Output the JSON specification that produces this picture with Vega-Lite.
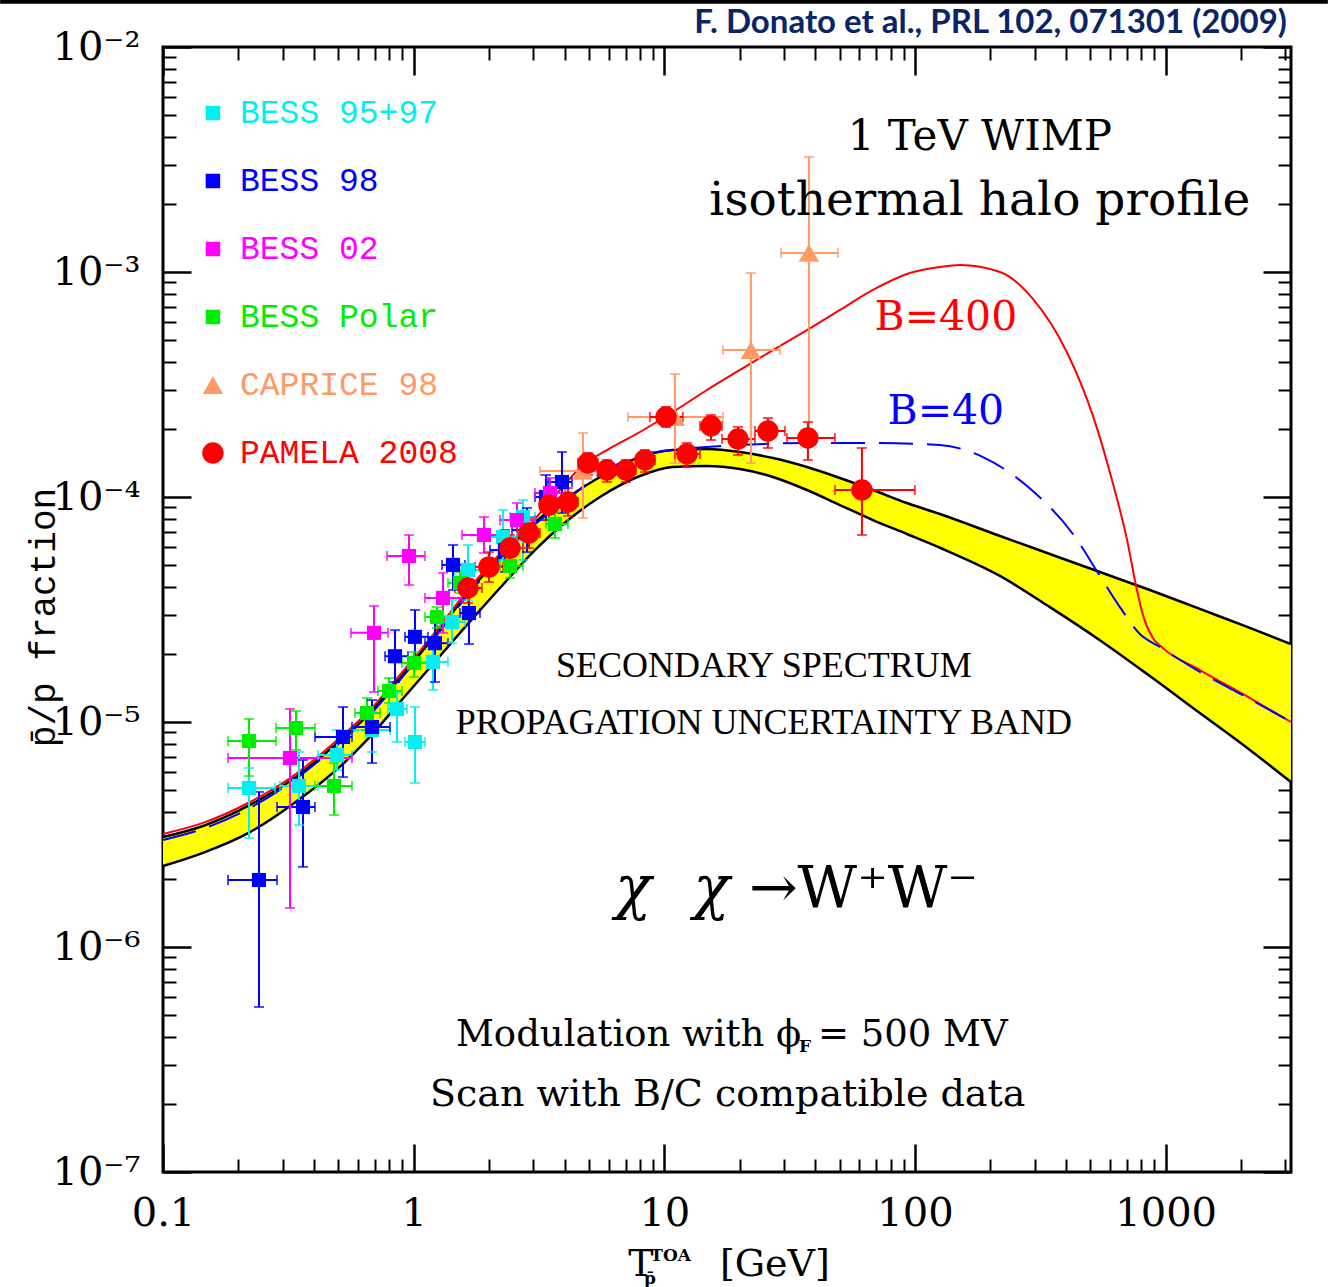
{
  "$schema": "https://vega.github.io/schema/vega-lite/v6.json",
  "width": 1128,
  "height": 1125,
  "autosize": {"type": "none"},
  "padding": {"left": 163, "top": 47, "right": 37, "bottom": 115},
  "background": "white",
  "config": {"view": {"stroke": "black", "strokeWidth": 3}, "axis": {"domain": false, "grid": false}},
  "resolve": {"axis": {"x": "independent", "y": "independent"}},
  "datasets": {
    "pts": [
      {"set":"BESS 95+97","x":0.2203,"xlo":0.1817,"xhi":0.2797,"y":5.09e-6,"ylo":3.05e-6,"yhi":6.25e-6},
      {"set":"BESS 95+97","x":0.3487,"xlo":0.2929,"xhi":0.4153,"y":5.2e-6,"ylo":3.48e-6,"yhi":7.36e-6},
      {"set":"BESS 95+97","x":0.4945,"xlo":0.4153,"xhi":0.5674,"y":7.13e-6,"ylo":6.12e-6,"yhi":9.21e-6},
      {"set":"BESS 95+97","x":0.6819,"xlo":0.5674,"xhi":0.8045,"y":9.21e-6,"ylo":7.36e-6,"yhi":1.108e-5},
      {"set":"BESS 95+97","x":0.8579,"xlo":0.7898,"xhi":0.9404,"y":1.142e-5,"ylo":8.15e-6,"yhi":1.359e-5},
      {"set":"BESS 95+97","x":1.012,"xlo":0.9233,"xhi":1.109,"y":8.15e-6,"ylo":5.36e-6,"yhi":1.166e-5},
      {"set":"BESS 95+97","x":1.194,"xlo":1.06,"xhi":1.37,"y":1.85e-5,"ylo":1.387e-5,"yhi":2.24e-5},
      {"set":"BESS 95+97","x":1.422,"xlo":1.273,"xhi":1.602,"y":2.78e-5,"ylo":2.24e-5,"yhi":3.48e-5},
      {"set":"BESS 95+97","x":1.647,"xlo":1.461,"xhi":1.873,"y":4.74e-5,"ylo":3.48e-5,"yhi":6.12e-5},
      {"set":"BESS 95+97","x":2.271,"xlo":2.016,"xhi":2.583,"y":6.64e-5,"ylo":5.25e-5,"yhi":8.76e-5},
      {"set":"BESS 95+97","x":2.729,"xlo":2.422,"xhi":3.047,"y":8.15e-5,"ylo":5.25e-5,"yhi":9.698e-5},
      {"set":"BESS 98","x":0.2415,"xlo":0.1817,"xhi":0.2849,"y":1.985e-6,"ylo":5.41e-7,"yhi":4.89e-6},
      {"set":"BESS 98","x":0.3618,"xlo":0.2849,"xhi":0.404,"y":4.19e-6,"ylo":2.27e-6,"yhi":6.78e-6},
      {"set":"BESS 98","x":0.5224,"xlo":0.404,"xhi":0.5674,"y":8.58e-6,"ylo":5.69e-6,"yhi":1.166e-5},
      {"set":"BESS 98","x":0.6819,"xlo":0.5674,"xhi":0.8045,"y":9.5e-6,"ylo":6.57e-6,"yhi":1.252e-5},
      {"set":"BESS 98","x":0.8423,"xlo":0.7683,"xhi":0.9491,"y":1.96e-5,"ylo":1.505e-5,"yhi":2.56e-5},
      {"set":"BESS 98","x":1.012,"xlo":0.9233,"xhi":1.14,"y":2.39e-5,"ylo":1.83e-5,"yhi":3.15e-5},
      {"set":"BESS 98","x":1.216,"xlo":1.109,"xhi":1.37,"y":2.24e-5,"ylo":1.505e-5,"yhi":2.93e-5},
      {"set":"BESS 98","x":1.435,"xlo":1.297,"xhi":1.602,"y":4.99e-5,"ylo":3.86e-5,"yhi":6.12e-5},
      {"set":"BESS 98","x":1.662,"xlo":1.53,"xhi":1.839,"y":3.05e-5,"ylo":2.22e-5,"yhi":3.86e-5},
      {"set":"BESS 98","x":2.313,"xlo":2.016,"xhi":2.583,"y":5.81e-5,"ylo":4.64e-5,"yhi":7.13e-5},
      {"set":"BESS 98","x":2.831,"xlo":2.467,"xhi":3.047,"y":7.13e-5,"ylo":5.69e-5,"yhi":8.94e-5},
      {"set":"BESS 98","x":3.371,"xlo":3.047,"xhi":3.661,"y":1.0e-4,"ylo":7.9e-5,"yhi":1.252e-4},
      {"set":"BESS 98","x":3.905,"xlo":3.433,"xhi":4.281,"y":1.166e-4,"ylo":8.49e-5,"yhi":1.585e-4},
      {"set":"BESS 02","x":0.3211,"xlo":0.1817,"xhi":0.5674,"y":6.92e-6,"ylo":1.49e-6,"yhi":1.142e-5},
      {"set":"BESS 02","x":0.6945,"xlo":0.5622,"xhi":0.7898,"y":2.49e-5,"ylo":1.359e-5,"yhi":3.28e-5},
      {"set":"BESS 02","x":0.9578,"xlo":0.7826,"xhi":1.109,"y":5.47e-5,"ylo":4.06e-5,"yhi":6.78e-5},
      {"set":"BESS 02","x":1.309,"xlo":1.109,"xhi":1.558,"y":3.56e-5,"ylo":2.49e-5,"yhi":4.6e-5},
      {"set":"BESS 02","x":1.907,"xlo":1.558,"xhi":2.313,"y":6.78e-5,"ylo":5.64e-5,"yhi":8.15e-5},
      {"set":"BESS 02","x":2.583,"xlo":2.209,"xhi":3.047,"y":7.9e-5,"ylo":6.44e-5,"yhi":9.4e-5},
      {"set":"BESS 02","x":3.497,"xlo":3.047,"xhi":4.014,"y":1.042e-4,"ylo":8.76e-5,"yhi":1.215e-4},
      {"set":"BESS Polar","x":0.2203,"xlo":0.1817,"xhi":0.2823,"y":8.23e-6,"ylo":5.75e-6,"yhi":1.031e-5},
      {"set":"BESS Polar","x":0.3393,"xlo":0.2823,"xhi":0.404,"y":9.4e-6,"ylo":7.51e-6,"yhi":1.119e-5},
      {"set":"BESS Polar","x":0.481,"xlo":0.404,"xhi":0.5674,"y":5.2e-6,"ylo":3.86e-6,"yhi":6.57e-6},
      {"set":"BESS Polar","x":0.6513,"xlo":0.5833,"xhi":0.7339,"y":1.096e-5,"ylo":9.21e-6,"yhi":1.278e-5},
      {"set":"BESS Polar","x":0.7971,"xlo":0.7205,"xhi":0.8982,"y":1.373e-5,"ylo":1.215e-5,"yhi":1.569e-5},
      {"set":"BESS Polar","x":1.003,"xlo":0.8982,"xhi":1.14,"y":1.83e-5,"ylo":1.585e-5,"yhi":2.05e-5},
      {"set":"BESS Polar","x":1.239,"xlo":1.109,"xhi":1.396,"y":2.93e-5,"ylo":2.62e-5,"yhi":3.24e-5},
      {"set":"BESS Polar","x":1.53,"xlo":1.37,"xhi":1.677,"y":4.15e-5,"ylo":3.74e-5,"yhi":4.64e-5},
      {"set":"BESS Polar","x":2.422,"xlo":2.209,"xhi":2.729,"y":4.94e-5,"ylo":4.37e-5,"yhi":5.47e-5},
      {"set":"BESS Polar","x":3.661,"xlo":3.371,"xhi":4.126,"y":7.59e-5,"ylo":6.57e-5,"yhi":8.58e-5},
      {"set":"CAPRICE 98","x":4.735,"xlo":3.19,"xhi":6.067,"y":1.305e-4,"ylo":8.07e-5,"yhi":1.925e-4},
      {"set":"CAPRICE 98","x":11.02,"xlo":7.158,"xhi":17.13,"y":2.267e-4,"ylo":1.416e-4,"yhi":3.52e-4},
      {"set":"CAPRICE 98","x":22.15,"xlo":17.13,"xhi":28.92,"y":4.5e-4,"ylo":1.416e-4,"yhi":9.9e-4},
      {"set":"CAPRICE 98","x":37.74,"xlo":29.19,"xhi":49.26,"y":1.215e-3,"ylo":1.985e-4,"yhi":3.245e-3},
      {"set":"PAMELA 2008","x":1.647,"xlo":1.461,"xhi":1.873,"y":3.94e-5,"ylo":3.38e-5,"yhi":4.6e-5},
      {"set":"PAMELA 2008","x":1.997,"xlo":1.756,"xhi":2.271,"y":4.89e-5,"ylo":4.19e-5,"yhi":5.69e-5},
      {"set":"PAMELA 2008","x":2.422,"xlo":2.209,"xhi":2.729,"y":5.93e-5,"ylo":5.14e-5,"yhi":6.78e-5},
      {"set":"PAMELA 2008","x":2.884,"xlo":2.583,"xhi":3.19,"y":6.92e-5,"ylo":5.93e-5,"yhi":8.07e-5},
      {"set":"PAMELA 2008","x":3.465,"xlo":3.19,"xhi":3.763,"y":9.21e-5,"ylo":7.9e-5,"yhi":1.074e-4},
      {"set":"PAMELA 2008","x":4.126,"xlo":3.763,"xhi":4.522,"y":9.5e-5,"ylo":8.24e-5,"yhi":1.096e-4},
      {"set":"PAMELA 2008","x":4.958,"xlo":4.522,"xhi":5.434,"y":1.416e-4,"ylo":1.252e-4,"yhi":1.569e-4},
      {"set":"PAMELA 2008","x":5.902,"xlo":5.434,"xhi":6.471,"y":1.318e-4,"ylo":1.166e-4,"yhi":1.461e-4},
      {"set":"PAMELA 2008","x":7.028,"xlo":6.471,"xhi":7.703,"y":1.318e-4,"ylo":1.166e-4,"yhi":1.461e-4},
      {"set":"PAMELA 2008","x":8.37,"xlo":7.703,"xhi":9.173,"y":1.461e-4,"ylo":1.291e-4,"yhi":1.617e-4},
      {"set":"PAMELA 2008","x":10.15,"xlo":8.762,"xhi":11.86,"y":2.267e-4,"ylo":2.047e-4,"yhi":2.512e-4},
      {"set":"PAMELA 2008","x":12.31,"xlo":11.02,"xhi":13.87,"y":1.553e-4,"ylo":1.359e-4,"yhi":1.738e-4},
      {"set":"PAMELA 2008","x":15.35,"xlo":13.87,"xhi":16.98,"y":2.068e-4,"ylo":1.792e-4,"yhi":2.314e-4},
      {"set":"PAMELA 2008","x":19.67,"xlo":16.98,"xhi":22.98,"y":1.811e-4,"ylo":1.537e-4,"yhi":2.047e-4},
      {"set":"PAMELA 2008","x":25.89,"xlo":22.98,"xhi":30.27,"y":1.965e-4,"ylo":1.651e-4,"yhi":2.244e-4},
      {"set":"PAMELA 2008","x":37.4,"xlo":30.83,"xhi":47.92,"y":1.829e-4,"ylo":1.461e-4,"yhi":2.154e-4},
      {"set":"PAMELA 2008","x":61.41,"xlo":47.92,"xhi":99.9,"y":1.074e-4,"ylo":6.78e-5,"yhi":1.651e-4}
    ],
    "band": [
      {"x":0.1,"hi":3.08e-6,"lo":2.29e-6},
      {"x":0.1444,"hi":3.45e-6,"lo":2.62e-6},
      {"x":0.2223,"hi":4.28e-6,"lo":3.24e-6},
      {"x":0.33,"hi":5.58e-6,"lo":4.32e-6},
      {"x":0.5224,"hi":8.49e-6,"lo":6.51e-6},
      {"x":0.6513,"hi":1.063e-5,"lo":8.32e-6},
      {"x":0.8818,"hi":1.569e-5,"lo":1.227e-5},
      {"x":1.194,"hi":2.36e-5,"lo":1.81e-5},
      {"x":1.632,"hi":3.71e-5,"lo":2.7e-5},
      {"x":2.209,"hi":5.41e-5,"lo":3.94e-5},
      {"x":2.992,"hi":7.59e-5,"lo":5.69e-5},
      {"x":4.088,"hi":9.9e-5,"lo":7.82e-5},
      {"x":5.535,"hi":1.227e-4,"lo":1.0e-4},
      {"x":7.994,"hi":1.505e-4,"lo":1.24e-4},
      {"x":10.82,"hi":1.617e-4,"lo":1.359e-4},
      {"x":14.79,"hi":1.634e-4,"lo":1.373e-4},
      {"x":20.03,"hi":1.585e-4,"lo":1.332e-4},
      {"x":27.12,"hi":1.49e-4,"lo":1.227e-4},
      {"x":37.06,"hi":1.359e-4,"lo":1.074e-4},
      {"x":50.17,"hi":1.215e-4,"lo":9.21e-5},
      {"x":67.94,"hi":1.074e-4,"lo":7.9e-5},
      {"x":92.84,"hi":9.4e-5,"lo":6.85e-5},
      {"x":125.7,"hi":8.4e-5,"lo":5.95e-5},
      {"x":218.2,"hi":6.71e-5,"lo":4.46e-5},
      {"x":345.2,"hi":5.58e-5,"lo":3.24e-5},
      {"x":546.4,"hi":4.64e-5,"lo":2.31e-5},
      {"x":865.0,"hi":3.86e-5,"lo":1.601e-5},
      {"x":1369,"hi":3.18e-5,"lo":1.096e-5},
      {"x":2167,"hi":2.62e-5,"lo":7.51e-6},
      {"x":3162,"hi":2.22e-5,"lo":5.41e-6}
    ],
    "b400": [
      {"x":0.1,"y":3.18e-6},{"x":0.1444,"y":3.56e-6},{"x":0.2223,"y":4.41e-6},{"x":0.33,"y":5.75e-6},
      {"x":0.5224,"y":8.76e-6},{"x":0.6513,"y":1.096e-5},{"x":0.8818,"y":1.618e-5},{"x":1.194,"y":2.44e-5},
      {"x":1.632,"y":3.82e-5},{"x":2.209,"y":5.58e-5},{"x":2.992,"y":7.82e-5},{"x":3.834,"y":1.074e-4},
      {"x":4.735,"y":1.387e-4},{"x":5.902,"y":1.617e-4},{"x":7.994,"y":1.945e-4},{"x":10.82,"y":2.386e-4},
      {"x":14.79,"y":2.99e-4},{"x":20.03,"y":3.67e-4},{"x":27.12,"y":4.5e-4},{"x":37.06,"y":5.52e-4},
      {"x":50.17,"y":6.78e-4},{"x":67.94,"y":8.32e-4},{"x":92.84,"y":9.8e-4},{"x":125.7,"y":1.052e-3},
      {"x":151.1,"y":1.074e-3},{"x":218.2,"y":1.0e-3},{"x":295.3,"y":7.6e-4},{"x":403.6,"y":4.4e-4},
      {"x":512.4,"y":2.3e-4},{"x":615.7,"y":1.15e-4},{"x":700.3,"y":6.5e-5},{"x":767.9,"y":3.86e-5},
      {"x":811.2,"y":2.99e-5},{"x":889.1,"y":2.36e-5},{"x":974.6,"y":2.13e-5},{"x":1369,"y":1.702e-5},
      {"x":2167,"y":1.278e-5},{"x":3162,"y":1.0e-5}
    ],
    "b40": [
      {"x":0.1,"y":2.99e-6},{"x":0.1444,"y":3.35e-6},{"x":0.2223,"y":4.15e-6},{"x":0.33,"y":5.47e-6},
      {"x":0.5224,"y":8.32e-6},{"x":0.6513,"y":1.042e-5},{"x":0.8818,"y":1.537e-5},{"x":1.194,"y":2.31e-5},
      {"x":1.632,"y":3.63e-5},{"x":2.209,"y":5.3e-5},{"x":2.992,"y":7.43e-5},{"x":4.088,"y":9.7e-5},
      {"x":5.535,"y":1.265e-4},{"x":7.994,"y":1.537e-4},{"x":10.82,"y":1.617e-4},{"x":14.79,"y":1.668e-4},
      {"x":20.03,"y":1.702e-4},{"x":37.06,"y":1.738e-4},{"x":67.94,"y":1.738e-4},{"x":125.7,"y":1.702e-4},
      {"x":186.6,"y":1.505e-4},{"x":295.3,"y":1.063e-4},{"x":426.5,"y":6.85e-5},{"x":546.4,"y":4.46e-5},
      {"x":656.8,"y":3.24e-5},{"x":789.1,"y":2.46e-5},{"x":948.2,"y":2.154e-5},{"x":1369,"y":1.668e-5},
      {"x":2167,"y":1.265e-5},{"x":3162,"y":1.0e-5}
    ],
    "legend": [
      {"set":"BESS 95+97","sx":0.1582,"tx":0.2028,"y":5.087e-3},
      {"set":"BESS 98","sx":0.1582,"tx":0.2028,"y":2.538e-3},
      {"set":"BESS 02","sx":0.1582,"tx":0.2028,"y":1.265e-3},
      {"set":"BESS Polar","sx":0.1582,"tx":0.2028,"y":6.31e-4},
      {"set":"CAPRICE 98","sx":0.1582,"tx":0.2028,"y":3.146e-4},
      {"set":"PAMELA 2008","sx":0.1582,"tx":0.2028,"y":1.569e-4}
    ],
    "axisdummy": [{"x":1,"y":0.0001}]
  },
  "layer": [
    {
      "data": {"values": [{"xa":0.0224,"xb":4436,"yv":0.0159}]},
      "mark": {"type": "rule", "color": "black", "strokeWidth": 4},
      "encoding": {
        "x": {"field":"xa","type":"quantitative","scale":{"type":"log","domain":[0.1,3162.3],"nice":false},"axis":null},
        "x2": {"field":"xb"},
        "y": {"field":"yv","type":"quantitative","scale":{"type":"log","domain":[1e-7,0.01],"nice":false},"axis":null}
      }
    },
    {
      "data": {"values": [{"x":3044,"y":0.01154,"t":"F. Donato et al., PRL 102, 071301 (2009)"}]},
      "mark": {"type": "text", "align": "right", "baseline": "alphabetic", "font": "Lato", "fontSize": 33, "fontWeight": "bold", "color": "#0A2466"},
      "encoding": {
        "x": {"field":"x","type":"quantitative","scale":{"type":"log","domain":[0.1,3162.3],"nice":false},"axis":null},
        "y": {"field":"y","type":"quantitative","scale":{"type":"log","domain":[1e-7,0.01],"nice":false},"axis":null},
        "text": {"field":"t"}
      }
    },
    {
      "data": {"name": "band"},
      "mark": {"type": "area", "color": "#FFFF00", "interpolate": "monotone", "opacity": 1},
      "encoding": {
        "x": {"field":"x","type":"quantitative","scale":{"type":"log","domain":[0.1,3162.3],"nice":false},"axis":null},
        "y": {"field":"hi","type":"quantitative","scale":{"type":"log","domain":[1e-7,0.01],"nice":false},"axis":null},
        "y2": {"field":"lo"}
      }
    },
    {
      "data": {"name": "band"},
      "mark": {"type": "line", "color": "black", "strokeWidth": 2.5, "interpolate": "monotone"},
      "encoding": {
        "x": {"field":"x","type":"quantitative","scale":{"type":"log","domain":[0.1,3162.3],"nice":false},"axis":null},
        "y": {"field":"hi","type":"quantitative","scale":{"type":"log","domain":[1e-7,0.01],"nice":false},"axis":null}
      }
    },
    {
      "data": {"name": "band"},
      "mark": {"type": "line", "color": "black", "strokeWidth": 2.5, "interpolate": "monotone"},
      "encoding": {
        "x": {"field":"x","type":"quantitative","scale":{"type":"log","domain":[0.1,3162.3],"nice":false},"axis":null},
        "y": {"field":"lo","type":"quantitative","scale":{"type":"log","domain":[1e-7,0.01],"nice":false},"axis":null}
      }
    },
    {
      "data": {"name": "b400"},
      "mark": {"type": "line", "color": "#FF0000", "strokeWidth": 2, "interpolate": "monotone"},
      "encoding": {
        "x": {"field":"x","type":"quantitative","scale":{"type":"log","domain":[0.1,3162.3],"nice":false},"axis":null},
        "y": {"field":"y","type":"quantitative","scale":{"type":"log","domain":[1e-7,0.01],"nice":false},"axis":null}
      }
    },
    {
      "data": {"name": "b40"},
      "mark": {"type": "line", "color": "#0000FF", "strokeWidth": 2, "strokeDash": [34, 14], "interpolate": "monotone"},
      "encoding": {
        "x": {"field":"x","type":"quantitative","scale":{"type":"log","domain":[0.1,3162.3],"nice":false},"axis":null},
        "y": {"field":"y","type":"quantitative","scale":{"type":"log","domain":[1e-7,0.01],"nice":false},"axis":null}
      }
    },
    {
      "data": {"name": "pts"},
      "mark": {"type": "rule", "strokeWidth": 2},
      "encoding": {
        "x": {"field":"xlo","type":"quantitative","scale":{"type":"log","domain":[0.1,3162.3],"nice":false},"axis":null},
        "x2": {"field":"xhi"},
        "y": {"field":"y","type":"quantitative","scale":{"type":"log","domain":[1e-7,0.01],"nice":false},"axis":null},
        "color": {"field":"set","type":"nominal","legend":null,"scale":{"domain":["BESS 95+97","BESS 98","BESS 02","BESS Polar","CAPRICE 98","PAMELA 2008"],"range":["#00F0F0","#0000FF","#FF00FF","#00EE00","#FF9966","#FF0000"]}}
      }
    },
    {
      "data": {"name": "pts"},
      "mark": {"type": "rule", "strokeWidth": 2},
      "encoding": {
        "x": {"field":"x","type":"quantitative","scale":{"type":"log","domain":[0.1,3162.3],"nice":false},"axis":null},
        "y": {"field":"ylo","type":"quantitative","scale":{"type":"log","domain":[1e-7,0.01],"nice":false},"axis":null},
        "y2": {"field":"yhi"},
        "color": {"field":"set","type":"nominal","legend":null}
      }
    },
    {
      "data": {"name": "pts"},
      "mark": {"type": "tick", "orient": "vertical", "size": 10, "thickness": 2},
      "encoding": {
        "x": {"field":"xlo","type":"quantitative","scale":{"type":"log","domain":[0.1,3162.3],"nice":false},"axis":null},
        "y": {"field":"y","type":"quantitative","scale":{"type":"log","domain":[1e-7,0.01],"nice":false},"axis":null},
        "color": {"field":"set","type":"nominal","legend":null}
      }
    },
    {
      "data": {"name": "pts"},
      "mark": {"type": "tick", "orient": "vertical", "size": 10, "thickness": 2},
      "encoding": {
        "x": {"field":"xhi","type":"quantitative","scale":{"type":"log","domain":[0.1,3162.3],"nice":false},"axis":null},
        "y": {"field":"y","type":"quantitative","scale":{"type":"log","domain":[1e-7,0.01],"nice":false},"axis":null},
        "color": {"field":"set","type":"nominal","legend":null}
      }
    },
    {
      "data": {"name": "pts"},
      "mark": {"type": "tick", "orient": "horizontal", "size": 10, "thickness": 2},
      "encoding": {
        "x": {"field":"x","type":"quantitative","scale":{"type":"log","domain":[0.1,3162.3],"nice":false},"axis":null},
        "y": {"field":"ylo","type":"quantitative","scale":{"type":"log","domain":[1e-7,0.01],"nice":false},"axis":null},
        "color": {"field":"set","type":"nominal","legend":null}
      }
    },
    {
      "data": {"name": "pts"},
      "mark": {"type": "tick", "orient": "horizontal", "size": 10, "thickness": 2},
      "encoding": {
        "x": {"field":"x","type":"quantitative","scale":{"type":"log","domain":[0.1,3162.3],"nice":false},"axis":null},
        "y": {"field":"yhi","type":"quantitative","scale":{"type":"log","domain":[1e-7,0.01],"nice":false},"axis":null},
        "color": {"field":"set","type":"nominal","legend":null}
      }
    },
    {
      "data": {"name": "pts"},
      "mark": {"type": "point", "filled": true, "opacity": 1, "strokeWidth": 0},
      "encoding": {
        "x": {"field":"x","type":"quantitative","scale":{"type":"log","domain":[0.1,3162.3],"nice":false},"axis":null},
        "y": {"field":"y","type":"quantitative","scale":{"type":"log","domain":[1e-7,0.01],"nice":false},"axis":null},
        "color": {"field":"set","type":"nominal","legend":null},
        "shape": {"field":"set","type":"nominal","legend":null,"scale":{"domain":["BESS 95+97","BESS 98","BESS 02","BESS Polar","CAPRICE 98","PAMELA 2008"],"range":["square","square","square","square","triangle-up","circle"]}},
        "size": {"condition": [{"test": "datum.set === 'PAMELA 2008'", "value": 460}, {"test": "datum.set === 'CAPRICE 98'", "value": 420}], "value": 200}
      }
    },
    {
      "data": {"name": "legend"},
      "mark": {"type": "point", "filled": true, "opacity": 1, "strokeWidth": 0},
      "encoding": {
        "x": {"field":"sx","type":"quantitative","scale":{"type":"log","domain":[0.1,3162.3],"nice":false},"axis":null},
        "y": {"field":"y","type":"quantitative","scale":{"type":"log","domain":[1e-7,0.01],"nice":false},"axis":null},
        "color": {"field":"set","type":"nominal","legend":null},
        "shape": {"field":"set","type":"nominal","legend":null},
        "size": {"condition": [{"test": "datum.set === 'PAMELA 2008'", "value": 460}, {"test": "datum.set === 'CAPRICE 98'", "value": 420}], "value": 210}
      }
    },
    {
      "data": {"name": "legend"},
      "mark": {"type": "text", "align": "left", "baseline": "middle", "font": "Liberation Mono", "fontSize": 33},
      "encoding": {
        "x": {"field":"tx","type":"quantitative","scale":{"type":"log","domain":[0.1,3162.3],"nice":false},"axis":null},
        "y": {"field":"y","type":"quantitative","scale":{"type":"log","domain":[1e-7,0.01],"nice":false},"axis":null},
        "color": {"field":"set","type":"nominal","legend":null},
        "text": {"field":"set"}
      }
    },
    {
      "data": {"values": [{"x":181.5,"y":3.98e-3,"t":"1 TeV WIMP"}]},
      "mark": {"type": "text", "align": "center", "baseline": "middle", "font": "DejaVu Serif", "fontSize": 42, "color": "black"},
      "encoding": {
        "x": {"field":"x","type":"quantitative","scale":{"type":"log","domain":[0.1,3162.3],"nice":false},"axis":null},
        "y": {"field":"y","type":"quantitative","scale":{"type":"log","domain":[1e-7,0.01],"nice":false},"axis":null},
        "text": {"field":"t"}
      }
    },
    {
      "data": {"values": [{"x":181.5,"y":2.068e-3,"t":"isothermal halo profile"}]},
      "mark": {"type": "text", "align": "center", "baseline": "middle", "font": "DejaVu Serif", "fontSize": 47, "color": "black"},
      "encoding": {
        "x": {"field":"x","type":"quantitative","scale":{"type":"log","domain":[0.1,3162.3],"nice":false},"axis":null},
        "y": {"field":"y","type":"quantitative","scale":{"type":"log","domain":[1e-7,0.01],"nice":false},"axis":null},
        "text": {"field":"t"}
      }
    },
    {
      "data": {"values": [{"x":132.8,"y":6.25e-4,"t":"B=400"}]},
      "mark": {"type": "text", "align": "center", "baseline": "middle", "font": "DejaVu Serif", "fontSize": 41, "color": "#FF0000"},
      "encoding": {
        "x": {"field":"x","type":"quantitative","scale":{"type":"log","domain":[0.1,3162.3],"nice":false},"axis":null},
        "y": {"field":"y","type":"quantitative","scale":{"type":"log","domain":[1e-7,0.01],"nice":false},"axis":null},
        "text": {"field":"t"}
      }
    },
    {
      "data": {"values": [{"x":132.8,"y":2.386e-4,"t":"B=40"}]},
      "mark": {"type": "text", "align": "center", "baseline": "middle", "font": "DejaVu Serif", "fontSize": 41, "color": "#0000FF"},
      "encoding": {
        "x": {"field":"x","type":"quantitative","scale":{"type":"log","domain":[0.1,3162.3],"nice":false},"axis":null},
        "y": {"field":"y","type":"quantitative","scale":{"type":"log","domain":[1e-7,0.01],"nice":false},"axis":null},
        "text": {"field":"t"}
      }
    },
    {
      "data": {"values": [{"x":24.96,"y":1.774e-5,"t":"SECONDARY SPECTRUM"},{"x":24.96,"y":9.9e-6,"t":"PROPAGATION UNCERTAINTY BAND"}]},
      "mark": {"type": "text", "align": "center", "baseline": "middle", "font": "Liberation Serif", "fontSize": 36, "color": "black"},
      "encoding": {
        "x": {"field":"x","type":"quantitative","scale":{"type":"log","domain":[0.1,3162.3],"nice":false},"axis":null},
        "y": {"field":"y","type":"quantitative","scale":{"type":"log","domain":[1e-7,0.01],"nice":false},"axis":null},
        "text": {"field":"t"}
      }
    },
    {
      "data": {"values": [{"x":6.353,"y":1.792e-6,"t":"χ\u2002\u2009χ"}]},
      "mark": {"type": "text", "align": "left", "baseline": "middle", "font": "DejaVu Serif", "fontSize": 60, "fontStyle": "italic", "color": "black"},
      "encoding": {
        "x": {"field":"x","type":"quantitative","scale":{"type":"log","domain":[0.1,3162.3],"nice":false},"axis":null},
        "y": {"field":"y","type":"quantitative","scale":{"type":"log","domain":[1e-7,0.01],"nice":false},"axis":null},
        "text": {"field":"t"}
      }
    },
    {
      "data": {"values": [{"x":21.75,"y":1.792e-6,"t":"→W⁺W⁻"}]},
      "mark": {"type": "text", "align": "left", "baseline": "middle", "font": "DejaVu Serif", "fontSize": 58, "color": "black"},
      "encoding": {
        "x": {"field":"x","type":"quantitative","scale":{"type":"log","domain":[0.1,3162.3],"nice":false},"axis":null},
        "y": {"field":"y","type":"quantitative","scale":{"type":"log","domain":[1e-7,0.01],"nice":false},"axis":null},
        "text": {"field":"t"}
      }
    },
    {
      "data": {"values": [{"x":1.475,"y":4.06e-7,"t":"Modulation with ϕ"},{"x":41.01,"y":4.06e-7,"t":"= 500 MV"}]},
      "mark": {"type": "text", "align": "left", "baseline": "middle", "font": "DejaVu Serif", "fontSize": 37, "color": "black"},
      "encoding": {
        "x": {"field":"x","type":"quantitative","scale":{"type":"log","domain":[0.1,3162.3],"nice":false},"axis":null},
        "y": {"field":"y","type":"quantitative","scale":{"type":"log","domain":[1e-7,0.01],"nice":false},"axis":null},
        "text": {"field":"t"}
      }
    },
    {
      "data": {"values": [{"x":17.9,"y":2.2e-7,"t":"Scan with B/C compatible data"}]},
      "mark": {"type": "text", "align": "center", "baseline": "middle", "font": "DejaVu Serif", "fontSize": 38, "color": "black"},
      "encoding": {
        "x": {"field":"x","type":"quantitative","scale":{"type":"log","domain":[0.1,3162.3],"nice":false},"axis":null},
        "y": {"field":"y","type":"quantitative","scale":{"type":"log","domain":[1e-7,0.01],"nice":false},"axis":null},
        "text": {"field":"t"}
      }
    },
    {
      "data": {"values": [{"x":36.38,"y":3.59e-7,"t":"F"}]},
      "mark": {"type": "text", "align": "center", "baseline": "middle", "font": "DejaVu Serif", "fontSize": 17, "fontWeight": "bold", "color": "black"},
      "encoding": {
        "x": {"field":"x","type":"quantitative","scale":{"type":"log","domain":[0.1,3162.3],"nice":false},"axis":null},
        "y": {"field":"y","type":"quantitative","scale":{"type":"log","domain":[1e-7,0.01],"nice":false},"axis":null},
        "text": {"field":"t"}
      }
    },
    {
      "data": {"values": [{"x":8.07,"y":3.86e-8,"t":"T"},{"x":27.6,"y":3.86e-8,"t":"[GeV]"}]},
      "mark": {"type": "text", "align": "center", "baseline": "middle", "font": "DejaVu Serif", "fontSize": 38, "color": "black"},
      "encoding": {
        "x": {"field":"x","type":"quantitative","scale":{"type":"log","domain":[0.1,3162.3],"nice":false},"axis":null},
        "y": {"field":"y","type":"quantitative","scale":{"type":"log","domain":[1e-7,0.01],"nice":false},"axis":null},
        "text": {"field":"t"}
      }
    },
    {
      "data": {"values": [{"x":10.6,"y":4.23e-8,"t":"TOA"},{"x":8.76,"y":3.35e-8,"t":"p̄"}]},
      "mark": {"type": "text", "align": "center", "baseline": "middle", "font": "DejaVu Serif", "fontSize": 17, "fontWeight": "bold", "color": "black"},
      "encoding": {
        "x": {"field":"x","type":"quantitative","scale":{"type":"log","domain":[0.1,3162.3],"nice":false},"axis":null},
        "y": {"field":"y","type":"quantitative","scale":{"type":"log","domain":[1e-7,0.01],"nice":false},"axis":null},
        "text": {"field":"t"}
      }
    },
    {
      "data": {"name": "axisdummy"},
      "mark": {"type": "point", "opacity": 0},
      "encoding": {
        "x": {"field":"x","type":"quantitative","scale":{"type":"log","domain":[0.1,3162.3],"nice":false},
          "axis": {"orient":"bottom","values":[0.1,1,10,100,1000],"tickSize":-28,"tickWidth":2.5,"tickColor":"black","labelFont":"DejaVu Serif","labelFontSize":40,"labelColor":"black","labelPadding":49,"labelFlush":false,"labelOverlap":false,"labelExpr":"datum.value < 0.5 ? '0.1' : format(datum.value, 'd')","title":null}},
        "y": {"field":"y","type":"quantitative","scale":{"type":"log","domain":[1e-7,0.01],"nice":false},
          "axis": {"orient":"left","values":[1e-7,1e-6,1e-5,1e-4,1e-3,1e-2],"tickSize":-28,"tickWidth":2.5,"tickColor":"black","labelFont":"DejaVu Serif","labelFontSize":40,"labelColor":"black","labelPadding":51,"labelFlush":false,"labelOverlap":false,"labelBaseline":"middle","labelExpr":"'10' + ['⁻⁷','⁻⁶','⁻⁵','⁻⁴','⁻³','⁻²'][round(log(datum.value)/LN10)+7]","title":"p̄/p fraction","titleFont":"Liberation Mono","titleFontSize":36,"titleFontWeight":"normal","titleColor":"black","titleAngle":-90,"titleX":-120,"titleY":570,"titleAlign":"center","titleBaseline":"middle"}}
      }
    },
    {
      "data": {"name": "axisdummy"},
      "mark": {"type": "point", "opacity": 0},
      "encoding": {
        "x": {"field":"x","type":"quantitative","scale":{"type":"log","domain":[0.1,3162.3],"nice":false},
          "axis": {"orient":"bottom","values":[0.2,0.3,0.4,0.5,0.6,0.7,0.8,0.9,2,3,4,5,6,7,8,9,20,30,40,50,60,70,80,90,200,300,400,500,600,700,800,900,2000,3000],"tickSize":-13,"tickWidth":2,"tickColor":"black","labels":false,"title":null}},
        "y": {"field":"y","type":"quantitative","scale":{"type":"log","domain":[1e-7,0.01],"nice":false},
          "axis": {"orient":"left","values":[2e-7,3e-7,4e-7,5e-7,6e-7,7e-7,8e-7,9e-7,2e-6,3e-6,4e-6,5e-6,6e-6,7e-6,8e-6,9e-6,2e-5,3e-5,4e-5,5e-5,6e-5,7e-5,8e-5,9e-5,2e-4,3e-4,4e-4,5e-4,6e-4,7e-4,8e-4,9e-4,2e-3,3e-3,4e-3,5e-3,6e-3,7e-3,8e-3,9e-3],"tickSize":-13,"tickWidth":2,"tickColor":"black","labels":false,"title":null}}
      }
    },
    {
      "data": {"name": "axisdummy"},
      "mark": {"type": "point", "opacity": 0},
      "encoding": {
        "x": {"field":"x","type":"quantitative","scale":{"type":"log","domain":[0.1,3162.3],"nice":false},
          "axis": {"orient":"top","values":[0.1,1,10,100,1000],"tickSize":-28,"tickWidth":2.5,"tickColor":"black","labels":false,"title":null}},
        "y": {"field":"y","type":"quantitative","scale":{"type":"log","domain":[1e-7,0.01],"nice":false},
          "axis": {"orient":"right","values":[1e-7,1e-6,1e-5,1e-4,1e-3,1e-2],"tickSize":-28,"tickWidth":2.5,"tickColor":"black","labels":false,"title":null}}
      }
    },
    {
      "data": {"name": "axisdummy"},
      "mark": {"type": "point", "opacity": 0},
      "encoding": {
        "x": {"field":"x","type":"quantitative","scale":{"type":"log","domain":[0.1,3162.3],"nice":false},
          "axis": {"orient":"top","values":[0.2,0.3,0.4,0.5,0.6,0.7,0.8,0.9,2,3,4,5,6,7,8,9,20,30,40,50,60,70,80,90,200,300,400,500,600,700,800,900,2000,3000],"tickSize":-13,"tickWidth":2,"tickColor":"black","labels":false,"title":null}},
        "y": {"field":"y","type":"quantitative","scale":{"type":"log","domain":[1e-7,0.01],"nice":false},
          "axis": {"orient":"right","values":[2e-7,3e-7,4e-7,5e-7,6e-7,7e-7,8e-7,9e-7,2e-6,3e-6,4e-6,5e-6,6e-6,7e-6,8e-6,9e-6,2e-5,3e-5,4e-5,5e-5,6e-5,7e-5,8e-5,9e-5,2e-4,3e-4,4e-4,5e-4,6e-4,7e-4,8e-4,9e-4,2e-3,3e-3,4e-3,5e-3,6e-3,7e-3,8e-3,9e-3],"tickSize":-13,"tickWidth":2,"tickColor":"black","labels":false,"title":null}}
      }
    }
  ]
}
